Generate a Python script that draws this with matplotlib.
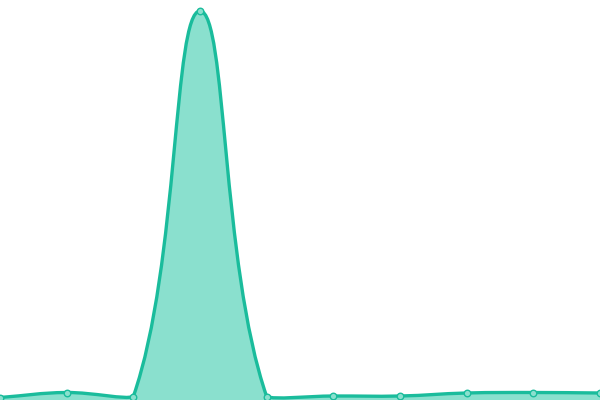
import numpy as np
import matplotlib
matplotlib.use("Agg")
import matplotlib.pyplot as plt
from matplotlib.path import Path
from matplotlib.patches import PathPatch

x_vals = [0, 1, 2, 3, 4, 5, 6, 7, 8, 9]
y_vals = [2.5, 7.5, 3.5, 389, 3.5, 4, 4, 7, 7.5, 7]

line_color = "#1abc9c"
fill_color = "#8ae0ce"
tension = 0.4

fig = plt.figure(figsize=(6, 4), dpi=100)
ax = fig.add_axes([0, 0, 1, 1])
ax.set_xlim(0, 9)
ax.set_ylim(0, 400)
ax.axis("off")

# points in display (pixel) space
pts = ax.transData.transform(np.column_stack([x_vals, y_vals]))
n = len(pts)
bbox = ax.bbox
ctrl_prev = np.zeros_like(pts)
ctrl_next = np.zeros_like(pts)
for i in range(n):
    cur = pts[i]
    prev = pts[i - 1] if i > 0 else cur
    nxt = pts[i + 1] if i < n - 1 else cur
    d01 = np.hypot(*(cur - prev))
    d12 = np.hypot(*(nxt - cur))
    tot = d01 + d12
    s01 = d01 / tot if tot else 0
    s12 = d12 / tot if tot else 0
    fa, fb = tension * s01, tension * s12
    cp = cur - fa * (nxt - prev)
    cn = cur + fb * (nxt - prev)
    # cap to chart area
    for c in (cp, cn):
        c[0] = min(max(c[0], bbox.x0), bbox.x1)
        c[1] = min(max(c[1], bbox.y0), bbox.y1)
    ctrl_prev[i] = cp
    ctrl_next[i] = cn

verts = [pts[0]]
codes = [Path.MOVETO]
for i in range(n - 1):
    verts += [ctrl_next[i], ctrl_prev[i + 1], pts[i + 1]]
    codes += [Path.CURVE4] * 3

inv = ax.transData.inverted()
line_verts = inv.transform(np.array(verts))
line_path = Path(line_verts, codes)

base_r = inv.transform([[pts[-1][0], bbox.y0]])[0]
base_l = inv.transform([[pts[0][0], bbox.y0]])[0]
fill_verts = list(line_verts) + [base_r, base_l, line_verts[0]]
fill_codes = list(codes) + [Path.LINETO, Path.LINETO, Path.CLOSEPOLY]
ax.add_patch(PathPatch(Path(fill_verts, fill_codes), facecolor=fill_color,
                       edgecolor="none", zorder=1))
ax.add_patch(PathPatch(line_path, facecolor="none", edgecolor=line_color,
                       linewidth=2.4, zorder=2, capstyle="round", joinstyle="round"))
ax.scatter(x_vals, y_vals, s=22, facecolor=fill_color, edgecolor=line_color,
           linewidth=1.0, zorder=3, clip_on=False)
fig.savefig("out.png", dpi=100)
